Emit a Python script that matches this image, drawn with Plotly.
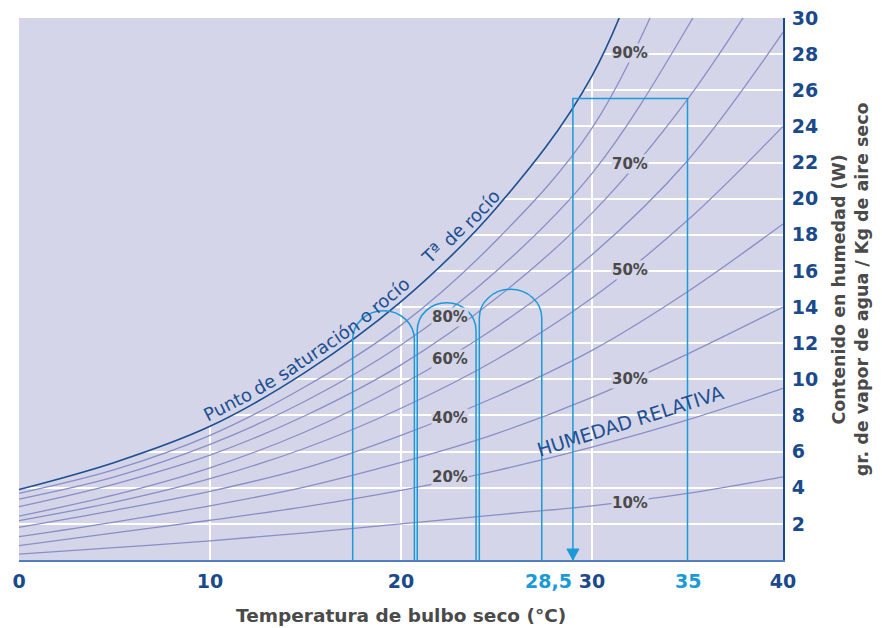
import plotly.graph_objects as go

# -- datos (temperatura seca en C, humedad en g/kg)
temp = [0, 5, 10, 15, 20, 25, 30, 35, 40]
w_sat = [3.9, 5.4, 7.4, 10.4, 14.3, 19.5, 26.8, 40.0, 52.0]
w_rh90 = [3.69, 5.0, 6.9, 9.6, 13.0, 17.7, 23.9, 34.5, 46.0]
w_rh80 = [3.37, 4.6, 6.4, 8.8, 11.9, 16.0, 21.4, 29.5, 39.5]
w_rh70 = [2.95, 4.2, 5.8, 8.0, 10.8, 14.5, 19.2, 25.5, 33.5]
w_rh60 = [2.43, 3.6, 5.1, 7.1, 9.7, 12.9, 16.9, 22.1, 29.2]
w_rh50 = [2.18, 3.2, 4.5, 6.2, 8.4, 11.1, 14.5, 18.8, 24.0]
w_rh40 = [1.81, 2.75, 3.8, 5.1, 6.9, 9.05, 11.6, 14.85, 18.6]
w_rh30 = [1.29, 2.1, 3.0, 4.05, 5.4, 7.0, 9.0, 11.4, 14.0]
w_rh20 = [0.79, 1.5, 2.2, 2.95, 3.85, 4.95, 6.25, 7.75, 9.5]
w_rh10 = [0.33, 0.68, 1.06, 1.5, 2.0, 2.5, 3.0, 3.69, 4.6]

rh_labels = ["90%", "80%", "70%", "60%", "50%", "40%", "30%", "20%", "10%"]
label_t = [32.0, 22.57, 32.0, 22.57, 32.0, 22.57, 32.0, 22.57, 32.0]
label_w = [28.06, 13.46, 21.9, 11.11, 16.07, 7.88, 10.03, 4.58, 3.14]

# arcos (patas y altura) y rectangulo del ejemplo
arch_left = [17.47, 20.85, 24.1]
arch_right = [20.7, 23.93, 27.37]
arch_shoulder = [12.2, 12.7, 13.4]
arch_top = [13.8, 14.24, 14.98]
rect_x = [29.0, 35.0]
rect_top = 25.55

x_ticks = [0, 10, 20, 30, 40]
y_ticks = list(range(2, 31, 2))

# texto sobre la curva de saturacion
curve_text = ["Punto", "de", "saturación", "o", "rocío", "Tª", "de", "rocío"]
curve_t = [10.91, 12.85, 15.68, 18.16, 19.4, 21.62, 22.77, 24.24]
curve_w = [8.62, 9.72, 11.65, 13.53, 14.66, 16.94, 18.04, 19.43]
curve_ang = [-27, -30, -34, -37, -40, -44, -45, -47]

# colores
c_bg = "#d4d5e8"
c_rh = "#8a8ec6"
c_sat = "#1d4f91"
c_light = "#1b9ad7"
c_dark = "#1a4a8c"
c_gray = "#4a4a4a"
font_fam = "DejaVu Sans"

fig = go.Figure()

# tapa sobre la curva de saturacion (oculta la reticula)
fig.add_trace(go.Scatter(x=temp, y=[31] * len(temp), mode="lines", line=dict(width=0, shape="spline"),
                         hoverinfo="skip", showlegend=False))
fig.add_trace(go.Scatter(x=temp, y=w_sat, mode="lines", fill="tonexty", fillcolor=c_bg,
                         line=dict(width=0, shape="spline"), hoverinfo="skip", showlegend=False))

# curvas de humedad relativa
for serie in [w_rh90, w_rh80, w_rh70, w_rh60, w_rh50, w_rh40, w_rh30, w_rh20, w_rh10]:
    fig.add_trace(go.Scatter(x=temp, y=serie, mode="lines", line=dict(color=c_rh, width=1.3, shape="spline"),
                             hoverinfo="skip", showlegend=False))

# curva de saturacion
fig.add_trace(go.Scatter(x=temp, y=w_sat, mode="lines", line=dict(color=c_sat, width=1.6, shape="spline"),
                         hoverinfo="skip", showlegend=False))

shapes = []
k = 0.5523
for l, r, s, h in zip(arch_left, arch_right, arch_shoulder, arch_top):
    c = (l + r) / 2
    path = (f"M {l},0 L {l},{s} C {l},{s + k * (h - s)} {c - k * (c - l)},{h} {c},{h} "
            f"C {c + k * (r - c)},{h} {r},{s + k * (h - s)} {r},{s} L {r},0")
    shapes.append(dict(type="path", xref="x", yref="y", path=path, line=dict(color=c_light, width=1.5)))

shapes.append(dict(type="path", xref="x", yref="y",
                   path=f"M {rect_x[0]},0 L {rect_x[0]},{rect_top} L {rect_x[1]},{rect_top} L {rect_x[1]},0",
                   line=dict(color=c_light, width=1.5)))
# punta de flecha
shapes.append(dict(type="path", xref="x", yref="y", xsizemode="pixel", ysizemode="pixel",
                   xanchor=rect_x[0], yanchor=0, path="M -6,11 L 6,11 L 0,0 Z",
                   fillcolor=c_light, line=dict(color=c_light, width=1)))

annotations = []
for txt, t, w in zip(rh_labels, label_t, label_w):
    annotations.append(dict(x=t, y=w, xref="x", yref="y", text=txt, showarrow=False,
                            bgcolor=c_bg, borderpad=0,
                            font=dict(family=font_fam, size=15, color=c_gray, weight="bold")))

for txt, t, w, a in zip(curve_text, curve_t, curve_w, curve_ang):
    annotations.append(dict(x=t, y=w, xref="x", yref="y", text=txt, showarrow=False, textangle=a,
                            font=dict(family=font_fam, size=18, color=c_sat)))

annotations.append(dict(x=31.99, y=7.7, xref="x", yref="y", text="HUMEDAD RELATIVA", showarrow=False,
                        textangle=-17.5, font=dict(family=font_fam, size=19, color=c_sat)))

# etiquetas especiales del eje x
for txt, xv, xs in [("28,5", 28.5, -15), ("35", 35, 0)]:
    annotations.append(dict(x=xv, y=0, xref="x", yref="paper", text=txt, showarrow=False, xshift=xs,
                            yanchor="middle", yshift=-21,
                            font=dict(family=font_fam, size=19, color=c_light, weight="bold")))

# titulos
annotations.append(dict(x=0.5, y=-0.103, xref="paper", yref="paper", text="Temperatura de bulbo seco (°C)",
                        showarrow=False, yanchor="middle",
                        font=dict(family=font_fam, size=18.5, color=c_gray, weight="bold")))
annotations.append(dict(x=1.088, y=0.5, xref="paper", yref="paper", textangle=-90, showarrow=False,
                        xanchor="center", yanchor="middle",
                        text="Contenido en humedad (W)<br>gr. de vapor de agua / Kg de aire seco",
                        font=dict(family=font_fam, size=17.5, color=c_gray, weight="bold")))

# la pagina deja 8 px de margen, por eso la figura es algo menor que la ventana
fig.update_layout(
    width=874, height=620, autosize=False,
    margin=dict(l=11, r=99, t=10, b=68),
    paper_bgcolor="white", plot_bgcolor=c_bg,
    showlegend=False,
    shapes=shapes, annotations=annotations,
    xaxis=dict(range=[0, 40], tickvals=x_ticks, ticktext=[str(v) for v in x_ticks], automargin=False,
               showgrid=True, gridcolor="white", gridwidth=2, zeroline=False,
               showline=True, linecolor="#4f7fbf", linewidth=2, ticks="", ticklabelstandoff=3,
               tickfont=dict(family=font_fam, size=19, color=c_dark, weight="bold")),
    yaxis=dict(range=[0, 30], side="right", tickvals=y_ticks, ticktext=[str(v) for v in y_ticks],
               automargin=False, ticklabeloverflow="allow",
               showgrid=True, gridcolor="white", gridwidth=2, zeroline=False,
               showline=True, linecolor=c_dark, linewidth=2, ticks="", ticklabelstandoff=3,
               tickfont=dict(family=font_fam, size=19, color=c_dark, weight="bold")),
)

fig.write_html("out.html")
